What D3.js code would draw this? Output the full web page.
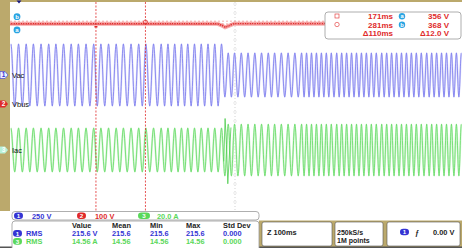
<!DOCTYPE html>
<html lang="en">
<head>
<meta charset="UTF-8">
<title>Vac / Vbus / Iac load step</title>
<script src="https://d3js.org/d3.v7.min.js"></script>
<style>
    body { margin: 0; background: #fff; }
    svg { display: block; font-family: "Liberation Sans", Arial, sans-serif; font-weight: bold; }
</style>
</head>
<body>
<svg id="scope" width="462" height="248"></svg>
<script>
// ---- data ----
// apparent crest times of the line-frequency traces (ms, trigger = 0)
const crestTimes = [-18, -1, 16, 32, 49, 66, 82, 99, 116, 132, 149, 166, 182, 199, 216, 232, 249, 266, 282, 299, 316,
    331, 346, 361, 375, 390, 405, 420, 435, 450, 465, 479, 494, 509, 524, 539, 554, 568, 583, 598, 613, 628,
    639, 650, 661, 672, 683, 694, 706, 717, 728, 739, 750, 761, 772, 783, 794, 806, 817, 828, 839, 850, 861,
    872, 883, 894, 906, 917, 928, 939, 950, 961, 972, 983];
const stepTime = 464;              // ms, load step
const vacPeak = [345, 245];        // V, before / after step
const iacPeak = [19.5, 23];        // A, before / after step
const iacSpikeTimes = [455, 458, 461, 464, 467, 471];
const iacSpikeAmps = [-10, 28, 5, -30, -8, 20];
const vbusTimes = [-20, 440, 450, 458, 466, 478, 980];
const vbusVolts = [357, 357, 350, 341, 347, 357, 358];
const cursorTimes = [171, 281];
const cursorVolts = [356, 368];
const channels = [
    { id: "1", name: "Vac",  scale: "250 V",  perDiv: 250, ground: 75 },
    { id: "2", name: "Vbus", scale: "100 V",  perDiv: 100, ground: 104 },
    { id: "3", name: "Iac",  scale: "20.0 A", perDiv: 20,  ground: 150 }
];
const measureHead = ["Value", "Mean", "Min", "Max", "Std Dev"];
const vacMeasure = ["215.6 V", "215.6", "215.6", "215.6", "0.000"];
const iacMeasure = ["14.56 A", "14.56", "14.56", "14.56", "0.000"];

const tan = "#bba96c";
const blue = "#3434d4", red = "#e02a2a", green = "#5ad85a";
const svg = d3.select("#scope");

// screen geometry
const x = d3.scaleLinear().domain([-20, 980]).range([10, 460]);
const divPx = 22.5;
const yCh = channels.map(c => d3.scaleLinear().domain([0, c.perDiv]).range([c.ground, c.ground - divPx]));

svg.append("rect").attr("width", 462).attr("height", 248).attr("fill", "#fff");
svg.append("rect").attr("x", 0).attr("y", 0).attr("width", 10).attr("height", 211).attr("fill", tan);
svg.append("rect").attr("x", 0).attr("y", 0).attr("width", 462).attr("height", 2).attr("fill", tan);

// centre graticule line
const cx = x(480);
svg.append("line").attr("x1", cx).attr("x2", cx).attr("y1", 2).attr("y2", 211)
    .attr("stroke", "#c8c8c8").attr("stroke-width", 0.8).attr("stroke-dasharray", "1,2");
svg.append("g").selectAll("line").data(d3.range(4, 211, 9)).join("line")
    .attr("x1", cx - 2).attr("x2", cx + 2).attr("y1", d => d).attr("y2", d => d)
    .attr("stroke", "#d8d8d8").attr("stroke-width", 0.6);

// sine-like trace through crests
function tracePath(peaks, sc) {
    const p = d3.path();
    crestTimes.forEach((t, i) => {
        const amp = t < stepTime ? peaks[0] : peaks[1];
        const hi = sc(amp), lo = sc(-amp);
        const xa = x(t);
        if (i === 0) { p.moveTo(xa, hi); return; }
        const xp = x(crestTimes[i - 1]);
        const xm = (xp + xa) / 2, q = (xm - xp) * 0.36;
        const prevAmp = crestTimes[i - 1] < stepTime ? peaks[0] : peaks[1];
        p.bezierCurveTo(xp + q, sc(prevAmp), xm - q, lo, xm, lo);
        p.bezierCurveTo(xm + q, lo, xa - q, hi, xa, hi);
    });
    return p.toString();
}

svg.append("clipPath").attr("id", "scr").append("rect")
    .attr("x", 10).attr("y", 2).attr("width", 452).attr("height", 209);
const traces = svg.append("g").attr("clip-path", "url(#scr)");

[[vacPeak, 0, "#dcdcfb", "#7272ec"], [iacPeak, 2, "#d2f6d2", "#5cd85c"]].forEach(([pk, ci, soft, hard]) => {
    const d = tracePath(pk, yCh[ci]);
    traces.append("path").attr("d", d).attr("fill", "none").attr("stroke", soft).attr("stroke-width", 2);
    traces.append("path").attr("d", d).attr("fill", "none").attr("stroke", hard).attr("stroke-width", 0.75);
});

// current transient at the load step
const spikeLine = d3.line().x(d => x(d[0])).y(d => yCh[2](d[1]));
traces.append("path").attr("d", spikeLine(d3.zip(iacSpikeTimes, iacSpikeAmps)))
    .attr("fill", "none").attr("stroke", "#4ccc4c").attr("stroke-width", 0.8);

// Vbus
const vbusLine = d3.line().x(d => x(d[0])).y(d => yCh[1](d[1]));
const vb = d3.zip(vbusTimes, vbusVolts);
traces.append("path").attr("d", vbusLine(vb)).attr("fill", "none").attr("stroke", "#f7a8a8").attr("stroke-width", 4);
traces.append("path").attr("d", vbusLine(vb)).attr("fill", "none").attr("stroke", red).attr("stroke-width", 1.4);
traces.append("path").attr("d", vbusLine(vb)).attr("fill", "none").attr("stroke", "#fff")
    .attr("stroke-width", 0.7).attr("stroke-dasharray", "1.2,1.2");

// cursors
cursorVolts.forEach(v => {
    traces.append("line").attr("x1", 10).attr("x2", 462).attr("y1", yCh[1](v)).attr("y2", yCh[1](v))
        .attr("stroke", red).attr("stroke-width", 0.6).attr("stroke-dasharray", "2,2").attr("opacity", 0.6);
});
cursorTimes.forEach(t => {
    svg.append("line").attr("x1", x(t)).attr("x2", x(t)).attr("y1", 2).attr("y2", 211)
        .attr("stroke", red).attr("stroke-width", 0.8).attr("stroke-dasharray", "2,1.5");
});
svg.append("rect").attr("x", x(cursorTimes[0]) - 1.5).attr("y", 26).attr("width", 3).attr("height", 1.5).attr("fill", red);
svg.append("circle").attr("cx", x(cursorTimes[1])).attr("cy", 22).attr("r", 2).attr("fill", "none").attr("stroke", red).attr("stroke-width", 0.7);

// trigger marker
svg.append("path").attr("d", `M${x(0) - 2.5},0.5 L${x(0) + 2.5},0.5 L${x(0)},3.5 Z`).attr("fill", "#1a1a80");

// a/b cursor tags
[["b", yCh[1](cursorVolts[1]) - 4.5], ["a", yCh[1](cursorVolts[0]) + 6]].forEach(([l, yy]) => {
    svg.append("circle").attr("cx", 17).attr("cy", yy).attr("r", 3.4).attr("fill", "#2aa4e2");
    svg.append("text").attr("x", 17).attr("y", yy + 2.2).attr("text-anchor", "middle")
        .attr("font-size", 6).attr("fill", "#fff").text(l);
});

// channel ground markers + labels
const markFill = ["#eef0ff", red, "#b8f2d8"], markText = [blue, "#fff", "#fff"];
channels.forEach((c, i) => {
    const gy = c.ground;
    svg.append("path").attr("d", `M0,${gy - 3.5} H5 L8,${gy} L5,${gy + 3.5} H0 Z`)
        .attr("fill", markFill[i]).attr("stroke", i === 0 ? blue : "none").attr("stroke-width", 0.6);
    svg.append("text").attr("x", 3.5).attr("y", gy + 2.3).attr("text-anchor", "middle")
        .attr("font-size", 6.5).attr("fill", markText[i]).text(c.id);
    svg.append("text").attr("x", 12).attr("y", gy + 2.8).attr("font-size", 7.5)
        .attr("font-weight", "normal").attr("fill", "#111").text(c.name);
});

// cursor readout box
const rb = svg.append("g");
rb.append("rect").attr("x", 325).attr("y", 12).attr("width", 136).attr("height", 27).attr("rx", 3)
    .attr("fill", "#fff").attr("stroke", "#9a9a9a").attr("stroke-width", 0.8);
rb.append("rect").attr("x", 335).attr("y", 14).attr("width", 4).attr("height", 4)
    .attr("fill", "none").attr("stroke", red).attr("stroke-width", 0.6);
rb.append("circle").attr("cx", 337).attr("cy", 24.5).attr("r", 2.2)
    .attr("fill", "none").attr("stroke", red).attr("stroke-width", 0.6);
const rows = [[cursorTimes[0] + "ms", "a", cursorVolts[0] + " V"], [cursorTimes[1] + "ms", "b", cursorVolts[1] + " V"],
    ["\u0394" + (cursorTimes[1] - cursorTimes[0]) + "ms", null, "\u0394" + (cursorVolts[1] - cursorVolts[0]).toFixed(1) + " V"]];
rows.forEach((r, i) => {
    const yy = 19 + i * 8.6;
    rb.append("text").attr("x", 393).attr("y", yy).attr("text-anchor", "end").attr("font-size", 8).attr("fill", red).text(r[0]);
    rb.append("text").attr("x", 449).attr("y", yy).attr("text-anchor", "end").attr("font-size", 8).attr("fill", red).text(r[2]);
    if (r[1]) {
        rb.append("circle").attr("cx", 402).attr("cy", yy - 2.8).attr("r", 3.2).attr("fill", "#2aa4e2");
        rb.append("text").attr("x", 402).attr("y", yy - 0.7).attr("text-anchor", "middle").attr("font-size", 5.8).attr("fill", "#fff").text(r[1]);
    }
});

// ---- bottom readouts ----
svg.append("rect").attr("x", 259).attr("y", 220.5).attr("width", 203).attr("height", 28).attr("fill", tan);
svg.append("rect").attr("x", 0).attr("y", 246.5).attr("width", 462).attr("height", 1.5).attr("fill", "#555");

function pill(g, px, py, w, fill, label, fg) {
    g.append("rect").attr("x", px).attr("y", py - 3.3).attr("width", w).attr("height", 6.6).attr("rx", 3.3).attr("fill", fill);
    g.append("text").attr("x", px + w / 2).attr("y", py + 2.2).attr("text-anchor", "middle")
        .attr("font-size", 6.2).attr("fill", fg).text(label);
}

const bot = svg.append("g");
bot.append("rect").attr("x", 12).attr("y", 211.5).attr("width", 247).attr("height", 8.5).attr("rx", 3)
    .attr("fill", "#fff").attr("stroke", "#9a9a9a").attr("stroke-width", 0.8);
const chCol = [blue, red, green], chX = [14, 77, 138];
channels.forEach((c, i) => {
    pill(bot, chX[i], 215.7, i === 2 ? 12 : 9, chCol[i], c.id, "#fff");
    bot.append("text").attr("x", chX[i] + (i === 2 ? 19 : 18)).attr("y", 218.6).attr("font-size", 7.4)
        .attr("fill", chCol[i]).text(c.scale);
});

bot.append("rect").attr("x", 12).attr("y", 221).attr("width", 247).attr("height", 30).attr("rx", 3)
    .attr("fill", "#fff").attr("stroke", "#9a9a9a").attr("stroke-width", 0.8);
const colX = [72, 112, 150, 186, 223];
measureHead.forEach((h, i) => bot.append("text").attr("x", colX[i]).attr("y", 228).attr("font-size", 7.4).attr("fill", "#222").text(h));
[[vacMeasure, blue, "1", 236], [iacMeasure, green, "3", 244]].forEach(([vals, col, id, yy]) => {
    pill(bot, 13, yy - 2.6, 9, col, id, "#fff");
    bot.append("text").attr("x", 26).attr("y", yy).attr("font-size", 7.4).attr("fill", col).text("RMS");
    vals.forEach((v, i) => bot.append("text").attr("x", colX[i]).attr("y", yy).attr("font-size", 7.4).attr("fill", col).text(v));
});

// horizontal / acquisition / trigger boxes
const boxes = [[262, 70], [335, 48], [387, 73]];
boxes.forEach(([bx, bw]) => {
    bot.append("rect").attr("x", bx).attr("y", 222).attr("width", bw).attr("height", 24).attr("rx", 2)
        .attr("fill", "#fff").attr("stroke", "#555").attr("stroke-width", 0.6);
});
bot.append("text").attr("x", 267).attr("y", 235).attr("font-size", 7.4).attr("fill", "#222").text("Z 100ms");
bot.append("text").attr("x", 337).attr("y", 234.5).attr("font-size", 7).attr("fill", "#222").text("250kS/s");
bot.append("text").attr("x", 337).attr("y", 242.5).attr("font-size", 7).attr("fill", "#222").text("1M points");
pill(bot, 400, 232, 9, blue, "1", "#fff");
bot.append("text").attr("x", 415).attr("y", 235).attr("font-size", 7.4).attr("fill", "#222").text("\u0192");
bot.append("text").attr("x", 433).attr("y", 235).attr("font-size", 7.4).attr("fill", "#222").text("0.00 V");
</script>
</body>
</html>
